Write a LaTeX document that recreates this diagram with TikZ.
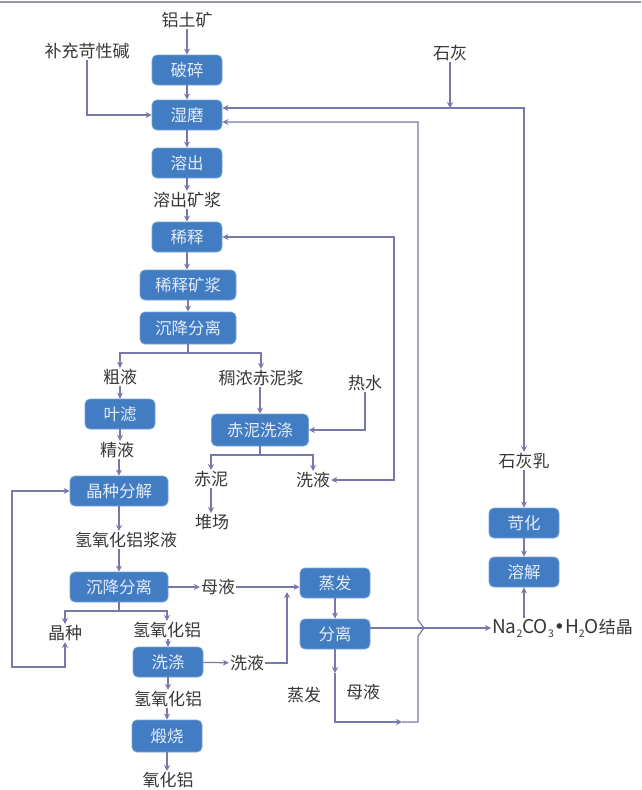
\documentclass[tikz,border=0pt]{standalone}
\usepackage{fontspec}
\setmainfont{Noto Sans CJK SC}
\newfontfamily\dvfont{DejaVu Sans}
\usetikzlibrary{arrows.meta}
\definecolor{boxblue}{RGB}{66,124,194}
\definecolor{boxedge}{RGB}{120,165,215}
\definecolor{ln}{RGB}{120,120,172}
\definecolor{txt}{RGB}{55,55,55}
\definecolor{boxtxt}{RGB}{228,236,248}
\definecolor{topline}{RGB}{150,150,175}
\newcommand{\lowsub}[1]{\raisebox{-0.4ex}{\fontsize{10.5}{10.5}\selectfont #1}}
\begin{document}
\begin{tikzpicture}[x=1pt,y=-1pt,
  proc/.style={draw=boxedge, fill=boxblue, rounded corners=5pt, text=boxtxt,
    minimum height=30pt, minimum width=70pt, inner sep=0pt,
    font=\fontsize{16.5}{18}\selectfont, line width=0.8pt},
  lbl/.style={text=txt, inner sep=1pt, font=\fontsize{17}{19}\selectfont},
  flow/.style={draw=ln, line width=1.2pt, -{Stealth[length=6pt,width=6pt]}},
  dflow/.style={draw=ln, line width=1.2pt, {Stealth[length=6pt,width=6pt]}-{Stealth[length=6pt,width=6pt]}},
  plain/.style={draw=ln, line width=1.2pt}]
\useasboundingbox (0,0) rectangle (641,790);
\draw[topline, line width=2pt] (0,2) -- (641,2);

% left main column
\node[lbl] (ore) at (187,20) {铝土矿};
\node[proc] (posui) at (187,70) {破碎};
\node[proc] (shimo) at (187,115) {湿磨};
\node[proc] (rongchu) at (187,163) {溶出};
\node[lbl] (rcjk) at (187,200) {溶出矿浆};
\node[proc] (xishi) at (187,237) {稀释};
\node[proc, minimum width=96pt] (xsjk) at (188,285) {稀释矿浆};
\node[proc, minimum width=96pt, minimum height=32pt] (cj1) at (188,328) {沉降分离};
\node[lbl] (culiye) at (120,377) {粗液};
\node[lbl] (chounong) at (261,378) {稠浓赤泥浆};
\node[proc] (yelv) at (120,414) {叶滤};
\node[lbl] (jingye) at (117,450) {精液};
\node[proc, minimum width=98pt] (jzfj) at (119,491) {晶种分解};
\node[lbl] (qyhlj) at (126,540) {氢氧化铝浆液};
\node[proc, minimum width=98pt] (cj2) at (119,587) {沉降分离};
\node[lbl] (muye1) at (218,587) {母液};
\node[lbl] (jingzhong) at (65,633) {晶种};
\node[lbl] (qyhl1) at (167,630) {氢氧化铝};
\node[proc] (xidi) at (168,662) {洗涤};
\node[lbl] (xiye2) at (247,663) {洗液};
\node[lbl] (qyhl2) at (168,699) {氢氧化铝};
\node[proc, minimum height=32pt] (duanshao) at (167,736) {煅烧};
\node[lbl] (yhl) at (168,780) {氧化铝};
\node[lbl] (bucong) at (87,51) {补充苛性碱};

% red mud branch
\node[lbl] (reshui) at (365,383) {热水};
\node[proc, minimum width=97pt, minimum height=32pt] (chixi) at (260,430) {赤泥洗涤};
\node[lbl] (chini) at (211,479) {赤泥};
\node[lbl] (xiye1) at (313,480) {洗液};
\node[lbl] (duichang) at (212,522) {堆场};

% evaporation
\node[proc] (zhengfa) at (335,583) {蒸发};
\node[proc] (fenli) at (335,634) {分离};
\node[lbl] (zfl) at (304,695) {蒸发};
\node[lbl] (muye2) at (363,692) {母液};

% right side
\node[lbl] (shihui) at (450,53) {石灰};
\node[lbl] (shhr) at (524,461) {石灰乳};
\node[proc] (kehua) at (524,523) {苛化};
\node[proc] (rongjie) at (524,572) {溶解};
\node[lbl, anchor=west] (na) at (491,628) {{\fontsize{19}{19}\selectfont Na\lowsub{2}CO\lowsub{3}{\dvfont •}H\lowsub{2}O}结晶};

% coordinates
\coordinate (s1) at (188,353);
\coordinate (s2) at (260,455);
\coordinate (s3) at (119,611);
\coordinate (lb) at (12,667);
\coordinate (w1) at (287,592);
\coordinate (cx) at (394,300);
\coordinate (m1) at (335,673);
\coordinate (b1) at (335,722);
\coordinate (m2) at (402,722);
\coordinate (b2) at (418,722);
\coordinate (h1) at (418,636);
\coordinate (h2) at (424,628);
\coordinate (h3) at (418,620);
\coordinate (r1) at (418,122);
\coordinate (tj) at (450,108);
\coordinate (tr) at (524,108);

% main column connectors
\draw[flow] (ore) -- (posui);
\draw[flow] (posui) -- (shimo);
\draw[flow] (shimo) -- (rongchu);
\draw[flow] (rongchu) -- (rcjk);
\draw[flow] (rcjk) -- (xishi);
\draw[flow] (xishi.south) -- (xishi.south |- xsjk.north);
\draw[flow] (xsjk.south) -- (xsjk.south |- cj1.north);
\draw[plain] (cj1.south) -- (s1);
\draw[flow] (s1) -| (culiye.north);
\draw[flow] (s1) -| (chounong.north);
\draw[flow] (culiye) -- (yelv);
\draw[flow] (yelv.south) -- (yelv.south |- jingye.north);
\draw[flow] (jingye.south -| jzfj) -- (jzfj.north);
\draw[flow] (jzfj.south) -- (jzfj.south |- qyhlj.north);
\draw[flow] (qyhlj.south -| cj2) -- (cj2.north);
\draw[flow] (cj2) -- (muye1);
\draw[flow] (muye1.east) -- (zhengfa.west |- muye1.east);
\draw[plain] (cj2.south) -- (s3);
\draw[flow] (s3) -| (jingzhong.north);
\draw[flow] (s3) -| (qyhl1.north);
\draw[dflow] (jingzhong.south) |- (lb) |- (jzfj.west);
\draw[flow] (qyhl1.south -| xidi) -- (xidi.north);
\draw[flow] (xidi) -- (xiye2);
\draw[flow] (xiye2.east) -| (w1);
\draw[flow] (xidi.south) -- (xidi.south |- qyhl2.north);
\draw[flow] (qyhl2.south -| duanshao) -- (duanshao.north);
\draw[flow] (duanshao.south) -- (duanshao.south |- yhl.north);
\draw[flow] (bucong.south) |- (shimo.west);

% red mud
\draw[flow] (chounong.south -| chixi) -- (chixi.north);
\draw[flow] (reshui.south) |- (chixi.east);
\draw[plain] (chixi.south) -- (s2);
\draw[flow] (s2) -| (chini.north);
\draw[flow] (s2) -| (xiye1.north);
\draw[flow] (chini.south) -- (chini.south |- duichang.north);
\draw[dflow] (xiye1.east) -| (cx) |- (xishi.east);

% evaporation loop
\draw[flow] (zhengfa) -- (fenli);
\draw[flow] (fenli.south) -- (m1);
\draw[flow] (m1) -- (b1) -- (m2);
\draw[flow] (m2) -- (b2) -- (h1) -- (h2) -- (h3) -- (r1) -- (shimo.east |- r1);
\draw[flow] (fenli.east |- na.west) -- (na.west);

% lime
\draw[flow] (shihui.south) -- (tj);
\draw[flow] (tj) -- (shimo.east |- tj);
\draw[flow] (tj) -- (tr) -- (shhr.north);
\draw[flow] (shhr) -- (kehua);
\draw[flow] (kehua) -- (rongjie);
\draw[flow] (rongjie.south |- na.north) -- (rongjie.south);
\end{tikzpicture}
\end{document}
